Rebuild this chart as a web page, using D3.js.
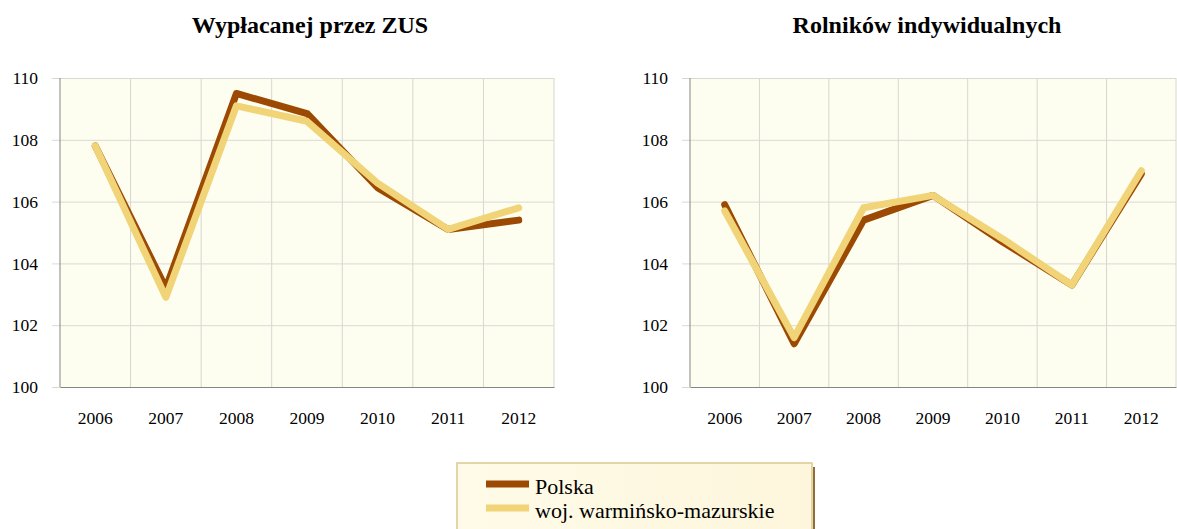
<!DOCTYPE html>
<html>
<head>
<meta charset="utf-8">
<script src="https://cdn.jsdelivr.net/npm/d3@7"></script>
<style>
  body { margin: 0; background: #fff; }
</style>
</head>
<body>
<div class="vis"></div>
<script>
  let width = 1177
  let height = 529
  let serif = '"Liberation Serif"'

  let years = ['2006', '2007', '2008', '2009', '2010', '2011', '2012']
  let yTicks = [100, 102, 104, 106, 108, 110]
  let seriesNames = ['Polska', 'woj. warmińsko-mazurskie']

  // Wypłacanej przez ZUS
  let zusPolska = [107.8, 103.2, 109.5, 108.85, 106.45, 105.1, 105.4]
  let zusWM = [107.8, 102.9, 109.1, 108.6, 106.6, 105.1, 105.8]

  // Rolników indywidualnych
  let rolPolska = [105.9, 101.4, 105.4, 106.2, 104.7, 103.3, 106.9]
  let rolWM = [105.7, 101.6, 105.8, 106.2, 104.8, 103.3, 107.0]

  let colors = ['#9c4a03', '#f0d477']

  let svg = d3.select('.vis').append('svg')
    .attr('width', width)
    .attr('height', height)

  let charts = [
    { title: 'Wypłacanej przez ZUS', left: 60, right: 554, titleX: 310, series: [zusPolska, zusWM] },
    { title: 'Rolników indywidualnych', left: 690, right: 1176, titleX: 927, series: [rolPolska, rolWM] }
  ]

  let plotTop = 78
  let plotBottom = 387

  charts.forEach((c) => {
    let g = svg.append('g')

    let x = d3.scaleBand()
      .domain(years)
      .range([c.left, c.right])

    let y = d3.scaleLinear()
      .domain([100, 110])
      .range([plotBottom, plotTop])

    g.append('rect')
      .attr('x', c.left)
      .attr('y', plotTop)
      .attr('width', c.right - c.left)
      .attr('height', plotBottom - plotTop)
      .attr('fill', '#fefef0')

    // vertical grid lines at category borders
    g.append('g')
      .selectAll('line')
      .data(years)
      .join('line')
        .attr('x1', (d) => x(d) + x.step())
        .attr('x2', (d) => x(d) + x.step())
        .attr('y1', plotTop)
        .attr('y2', plotBottom)
        .attr('stroke', '#d6d6d0')
        .attr('stroke-width', 1)

    // y axis with horizontal grid
    g.append('g')
      .attr('transform', `translate(${c.left},0)`)
      .call(d3.axisLeft(y).tickValues(yTicks).tickSize(8).tickPadding(14))
      .call((g) => g.select('.domain').remove())
      .call((g) => g.selectAll('.tick line').attr('stroke', '#d9d9d4'))
      .call((g) => g.selectAll('.tick').append('line')
        .attr('x1', 0)
        .attr('x2', c.right - c.left)
        .attr('stroke', '#d9d9d4'))
      .call((g) => g.selectAll('.tick text')
        .attr('fill', '#000')
        .style('font-family', serif)
        .style('font-size', '17.5px'))

    g.append('line')
      .attr('x1', c.left).attr('x2', c.left)
      .attr('y1', plotTop).attr('y2', plotBottom)
      .attr('stroke', '#858585')

    // x axis
    g.append('g')
      .attr('transform', `translate(0,${plotBottom})`)
      .call(d3.axisBottom(x).tickSize(0).tickPadding(25))
      .call((g) => g.select('.domain').attr('stroke', '#858585'))
      .call((g) => g.selectAll('.tick text')
        .attr('fill', '#000')
        .style('font-family', serif)
        .style('font-size', '17.5px'))

    let line = d3.line()
      .x((d, i) => x(years[i]) + x.bandwidth() / 2)
      .y((d) => y(d))

    g.append('g')
      .selectAll('path')
      .data(c.series)
      .join('path')
        .attr('d', (d) => line(d))
        .attr('fill', 'none')
        .attr('stroke', (d, i) => colors[i])
        .attr('stroke-width', 7)
        .attr('stroke-linecap', 'round')
        .attr('stroke-linejoin', 'round')

    svg.append('text')
      .attr('x', c.titleX)
      .attr('y', 33)
      .attr('text-anchor', 'middle')
      .style('font-weight', 'bold')
      .style('font-family', serif)
      .style('font-size', '24px')
      .text(c.title)
  })

  // legend
  let defs = svg.append('defs')
  let grad = defs.append('linearGradient')
    .attr('id', 'lg')
    .attr('x1', 0).attr('x2', 1).attr('y1', 0).attr('y2', 0)
  grad.append('stop').attr('offset', '0%').attr('stop-color', '#fffbe8')
  grad.append('stop').attr('offset', '100%').attr('stop-color', '#fdf6dc')

  let lg = svg.append('g')
  lg.append('rect')
    .attr('x', 457)
    .attr('y', 463)
    .attr('width', 355)
    .attr('height', 80)
    .attr('fill', 'url(#lg)')
    .attr('stroke', '#dcc890')
    .attr('stroke-width', 1.5)
  lg.append('line')
    .attr('x1', 814).attr('x2', 814)
    .attr('y1', 467).attr('y2', 529)
    .attr('stroke', '#8c7038')
    .attr('stroke-width', 2)

  let items = lg.selectAll('.item')
    .data(seriesNames)
    .join('g')
      .attr('transform', (d, i) => `translate(486,${484 + i * 24})`)

  items.append('line')
    .attr('x1', 0).attr('x2', 43)
    .attr('stroke', (d, i) => colors[i])
    .attr('stroke-width', 7)

  items.append('text')
    .attr('x', 49)
    .attr('y', 10)
    .style('font-family', serif)
    .style('font-size', '22px')
    .attr('fill', '#000')
    .text((d) => d)
</script>
</body>
</html>
